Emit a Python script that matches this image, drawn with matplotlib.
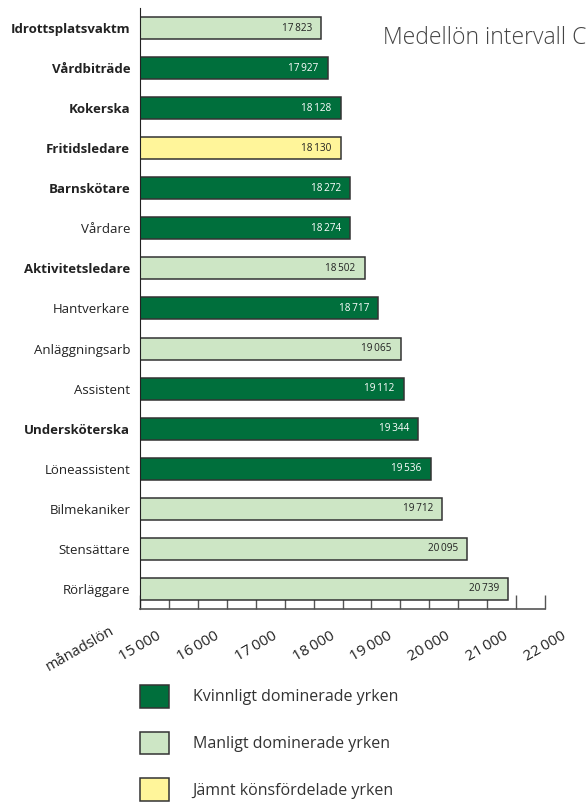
import matplotlib
matplotlib.use('Agg')
from matplotlib import pyplot as plt
from matplotlib.patches import Patch

plt.rcParams['font.family'] = ['Open Sans', 'DejaVu Sans']

# occupations, top to bottom
jobs = ['Idrottsplatsvaktm', 'Vårdbiträde', 'Kokerska', 'Fritidsledare',
        'Barnskötare', 'Vårdare', 'Aktivitetsledare', 'Hantverkare',
        'Anläggningsarb', 'Assistent', 'Undersköterska', 'Löneassistent',
        'Bilmekaniker', 'Stensättare', 'Rörläggare']
salary = [17823, 17927, 18128, 18130, 18272, 18274, 18502, 18717,
          19065, 19112, 19344, 19536, 19712, 20095, 20739]
# K = kvinnligt dominerat, M = manligt dominerat, J = jämnt fördelat
group = ['M', 'K', 'K', 'J', 'K', 'K', 'M', 'K',
         'M', 'K', 'K', 'K', 'M', 'M', 'M']
bold_jobs = ['Idrottsplatsvaktm', 'Vårdbiträde', 'Kokerska', 'Fritidsledare',
             'Barnskötare', 'Aktivitetsledare', 'Undersköterska']
axis_labels = list(range(15000, 22001, 500))

colors = {'K': '#006f3c', 'M': '#cde6c5', 'J': '#fff59a'}
text_colors = {'K': 'white', 'M': '#222222', 'J': '#222222'}
legend_text = {'K': 'Kvinnligt dominerade yrken',
               'M': 'Manligt dominerade yrken',
               'J': 'Jämnt könsfördelade yrken'}

X0 = 15000
X1 = 21318   # right end of the axis line


def fmt(v):
    return '{:,}'.format(v).replace(',', '\u2009')


fig = plt.figure(figsize=(5.87, 8.05), dpi=100)
ax = fig.add_axes([0.2385, 0.2435, 0.690, 0.7466])

ypos = list(range(len(jobs)))
for y, v, g in zip(ypos, salary, group):
    ax.barh(y, v - X0, left=X0, height=0.55, color=colors[g],
            edgecolor='#333333', linewidth=1.1, zorder=2)
    ax.text(v - 140, y, fmt(v), ha='right', va='center', fontsize=7.2,
            color=text_colors[g], zorder=3)

ax.set_xlim(X0, X1)
ax.set_ylim(len(jobs) - 0.5, -0.5)
ax.set_axisbelow(True)

ax.set_yticks(ypos)
ax.set_yticklabels(jobs, fontsize=9.5, color='#222222')
for lab in ax.get_yticklabels():
    if lab.get_text() in bold_jobs:
        lab.set_fontweight('bold')
ax.tick_params(axis='y', length=0, pad=7)

# the printed scale runs 15 000 - 22 000 along the full axis line
step = (X1 - X0) / 7000
ticks = [X0 + (v - X0) * step for v in axis_labels]
ax.set_xticks(ticks)
ax.set_xticklabels([fmt(v) if v % 1000 == 0 else '' for v in axis_labels],
                   rotation=30, fontsize=11, color='#222222', ha='center')
ax.tick_params(axis='x', direction='in', length=10, width=1, color='#555555', pad=14)

for s in ['top', 'right']:
    ax.spines[s].set_visible(False)
ax.spines['left'].set_color('#222222')
ax.spines['bottom'].set_color('#555555')
ax.spines['bottom'].set_linewidth(1.2)

fig.text(80 / 587, 1 - 649 / 805, 'månadslön', rotation=30, ha='center', va='center',
         fontsize=10.5, color='#222222')
fig.text(383 / 587, 1 - 38 / 805, 'Medellön intervall C', ha='left', va='center',
         fontsize=16.5, color='#444444', fontweight='light')

handles = [Patch(facecolor=colors[g], edgecolor='#333333', linewidth=1.1) for g in ['K', 'M', 'J']]
fig.legend(handles, [legend_text[g] for g in ['K', 'M', 'J']],
           loc='upper left', bbox_to_anchor=(140 / 587, 1 - 685 / 805),
           frameon=False, fontsize=11.5, handlelength=1.8, handleheight=1.8,
           handletextpad=1.5, labelspacing=1.5, borderpad=0, borderaxespad=0,
           labelcolor='#333333')

fig.savefig('out.png', dpi=100)
